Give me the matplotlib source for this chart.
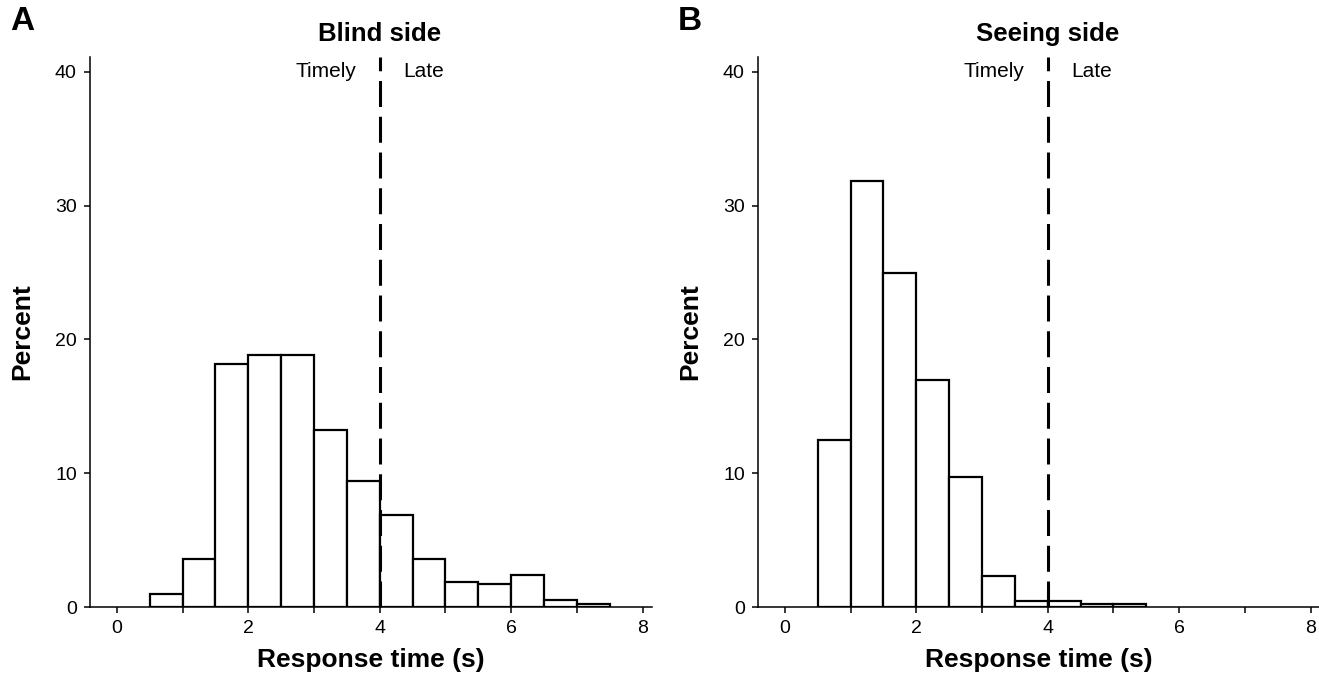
import matplotlib
matplotlib.use("Agg")
import matplotlib.pyplot as plt
import numpy as np

plt.rcParams["font.family"] = ["Liberation Sans", "DejaVu Sans"]

# histogram data (percent per 0.5 s bin)
blind_edges = [0.5, 1.0, 1.5, 2.0, 2.5, 3.0, 3.5, 4.0, 4.5, 5.0, 5.5, 6.0, 6.5, 7.0, 7.5]
blind_pct = [0.95, 3.55, 18.15, 18.85, 18.85, 13.2, 9.4, 6.85, 3.55, 1.9, 1.7, 2.4, 0.5, 0.25]

seeing_edges = [0.5, 1.0, 1.5, 2.0, 2.5, 3.0, 3.5, 4.0, 4.5, 5.0, 5.5]
seeing_pct = [12.45, 31.85, 24.95, 17.0, 9.7, 2.35, 0.45, 0.45, 0.2, 0.2]

panels = [
    ("A", "Blind side", blind_edges, blind_pct),
    ("B", "Seeing side", seeing_edges, seeing_pct),
]
cutoff = 4.0
xticks = list(range(0, 9))
xticklabels = [str(t) if t % 2 == 0 else "" for t in xticks]
yticks = [0, 10, 20, 30, 40]

fig = plt.figure(figsize=(13.19, 6.74), dpi=100)
W, H = 1319, 674
boxes = [(90, 652), (758, 1319)]
top_px, bot_px = 57, 607

for (letter, title, edges, pct), (l, r) in zip(panels, boxes):
    ax = fig.add_axes([l / W, 1 - bot_px / H, (r - l) / W, (bot_px - top_px) / H])
    edges = np.array(edges)
    ax.bar(edges[:-1], pct, width=np.diff(edges), align="edge",
           facecolor="white", edgecolor="black", linewidth=1.6, zorder=2)
    ax.plot([cutoff, cutoff], [0, 41.1], color="black", lw=2.2,
            dashes=(8.5, 3.2), zorder=3, clip_on=False)
    ax.text(cutoff - 0.36, 40, "Timely", ha="right", va="center", fontsize=15)
    ax.text(cutoff + 0.36, 40, "Late", ha="left", va="center", fontsize=15)

    ax.set_xlim(-0.41, (r - l) / 65.7 - 0.41)
    ax.set_ylim(0, 41.1)
    ax.set_xticks(xticks)
    ax.set_xticklabels(xticklabels)
    ax.set_yticks(yticks)
    ax.tick_params(direction="out", length=4.5, width=1.1, labelsize=14, pad=5)
    for s in ["top", "right"]:
        ax.spines[s].set_visible(False)
    for s in ["left", "bottom"]:
        ax.spines[s].set_linewidth(1.1)

    ax.set_xlabel("Response time (s)", fontsize=19, fontweight="bold", labelpad=8)
    ax.set_ylabel("Percent", fontsize=19, fontweight="bold", labelpad=15)
    ax.text(cutoff, 42.3, title, ha="center", va="baseline", fontsize=18.5,
            fontweight="bold")
    fig.text((l - 80) / W, 1 - 30 / H, letter, fontsize=24, fontweight="bold",
             ha="left", va="baseline")

fig.savefig("out.png", dpi=100)
